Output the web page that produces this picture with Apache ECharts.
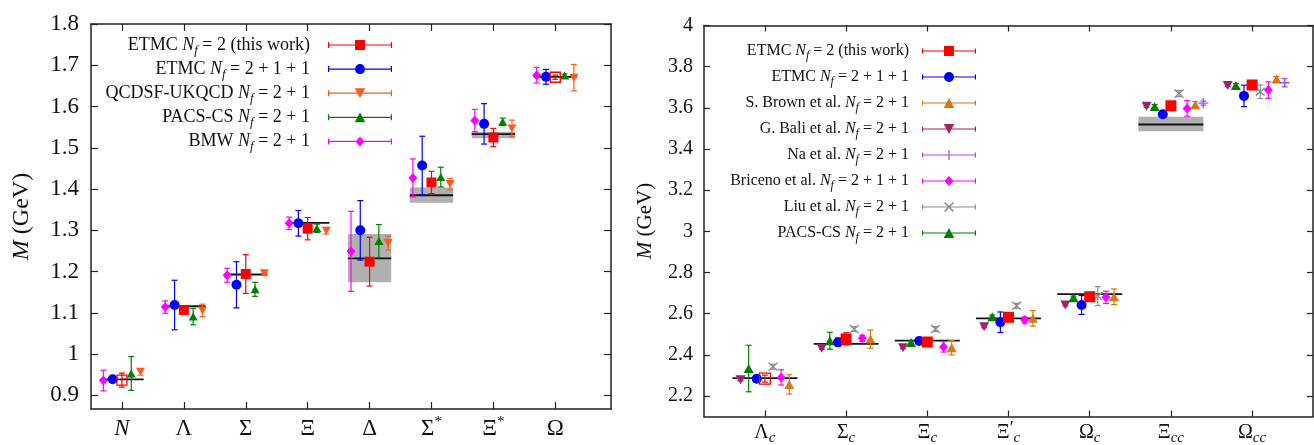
<!DOCTYPE html>
<html><head><meta charset="utf-8">
<script src="https://cdn.jsdelivr.net/npm/echarts@6/dist/echarts.min.js"></script>
<style>html,body{margin:0;padding:0;background:#fff}#c{width:1314px;height:445px}</style>
</head><body><div id="c"></div>
<script>
// ---------------- LEFT PANEL DATA (light baryons, GeV) ----------------
const leftCats = ['N','Λ','Σ','Ξ','Δ','Σ*','Ξ*','Ω'];
const leftExp   = [0.939, 1.116, 1.193, 1.318, 1.232, 1.385, 1.533, 1.672];
const leftExpLo = [null, null, null, null, 1.174, 1.367, 1.523, null];
const leftExpHi = [null, null, null, null, 1.291, 1.404, 1.539, null];
const leftTicks = [0.9, 1.0, 1.1, 1.2, 1.3, 1.4, 1.5, 1.6, 1.7, 1.8];
const leftInputs = ['N','Ω'];

const etmc2L      = [0.937, 1.107, 1.194, 1.304, 1.224, 1.416, 1.525, 1.671];
const etmc2LErr   = [0.017, 0.005, 0.047, 0.027, 0.059, 0.027, 0.022, 0.005];
const etmc211L    = [0.939, 1.119, 1.168, 1.317, 1.300, 1.457, 1.558, 1.672];
const etmc211LErr = [0.004, 0.060, 0.056, 0.031, 0.072, 0.071, 0.049, 0.018];
const qcdsfL      = [0.957, 1.106, 1.196, 1.299, 1.269, 1.412, 1.547, 1.670];
const qcdsfLErr   = [0.008, 0.015, 0.004, 0.008, 0.017, 0.014, 0.020, 0.032];
const pacsL       = [0.953, 1.091, 1.157, 1.305, 1.274, 1.429, 1.563, 1.675];
const pacsLErr    = [0.041, 0.020, 0.017, 0.010, 0.040, 0.024, 0.009, 0.004];
const bmwL        = [0.936, 1.114, 1.191, 1.317, 1.249, 1.427, 1.566, 1.676];
const bmwLErr     = [0.025, 0.015, 0.017, 0.015, 0.097, 0.046, 0.027, 0.019];

// ---------------- RIGHT PANEL DATA (charmed baryons, GeV) ----------------
const rightCats = ['Λc','Σc','Ξc',"Ξ'c",'Ωc','Ξcc','Ωcc'];
const rightExp   = [2.286, 2.453, 2.469, 2.577, 2.695, 3.519, null];
const rightExpLo = [null, null, null, null, null, 3.486, null];
const rightExpHi = [null, null, null, null, null, 3.557, null];
const rightTicks = [2.2, 2.4, 2.6, 2.8, 3.0, 3.2, 3.4, 3.6, 3.8, 4.0];
const rightInputs = ['Λc'];

const etmc2R      = [2.284, 2.477, 2.462, 2.582, 2.682, 3.610, 3.711];
const etmc2RErr   = [0.017, 0.030, 0.010, 0.010, 0.010, 0.010, 0.010];
const etmc211R    = [2.284, 2.461, 2.467, 2.558, 2.642, 3.569, 3.658];
const etmc211RErr = [0.010, 0.020, 0.010, 0.050, 0.046, 0.012, 0.052];
const brownR      = [2.256, 2.476, 2.434, 2.577, 2.682, 3.615, 3.740];
const brownRErr   = [0.047, 0.044, 0.035, 0.038, 0.038, 0.015, 0.012];
const baliR       = [2.278, 2.432, 2.434, 2.536, 2.642, 3.608, 3.708];
const baliRErr    = [0.005, 0.005, 0.005, 0.005, 0.005, 0.005, 0.005];
const naR         = [null, null, null, null, null, 3.623, 3.722];
const naRErr      = [null, null, null, null, null, 0.010, 0.020];
const bricenoR    = [2.290, 2.480, 2.438, 2.569, 2.679, 3.597, 3.686];
const bricenoRErr = [0.037, 0.015, 0.025, 0.015, 0.030, 0.038, 0.040];
const liuR        = [2.342, 2.525, 2.525, 2.638, 2.685, 3.669, 3.678];
const liuRErr     = [0.012, 0.012, 0.012, 0.012, 0.046, 0.015, 0.033];
const pacsR       = [2.333, 2.468, 2.459, 2.585, 2.677, 3.606, 3.708];
const pacsRErr    = [0.113, 0.041, 0.008, 0.008, 0.008, 0.010, 0.010];

// ---------------- STYLE / LAYOUT ----------------
const F = "'Liberation Serif','DejaVu Serif',serif";
const TXT = '#111';
const FRAME = '#222';

const leftSeries = [
  {name:'ETMC Nf = 2 (this work)', vals:etmc2L, errs:etmc2LErr, off:0, color:'#ff0000', sym:'rect', size:[10,10], icon:'rect', open:leftInputs, z:6},
  {name:'ETMC Nf = 2 + 1 + 1', vals:etmc211L, errs:etmc211LErr, off:-0.15, color:'#0000ff', sym:'circle', size:[10,10], icon:'circle', z:5},
  {name:'QCDSF-UKQCD Nf = 2 + 1', vals:qcdsfL, errs:qcdsfLErr, off:0.3, color:'#ff5a1e', sym:'triangle', rot:180, size:[9,8], icon:'down', z:4},
  {name:'PACS-CS Nf = 2 + 1', vals:pacsL, errs:pacsLErr, off:0.15, color:'#008000', sym:'triangle', size:[9,8], icon:'up', z:4},
  {name:'BMW Nf = 2 + 1', vals:bmwL, errs:bmwLErr, off:-0.3, color:'#ff00ff', sym:'diamond', size:[9,10], icon:'diamond', z:4}
];
const PLUS = 'path://M0 4.3L10 4.3L10 5.7L0 5.7ZM4.3 0L5.7 0L5.7 10L4.3 10Z';
const XSYM = 'path://M1 0L10 9L9 10L0 1ZM9 0L10 1L1 10L0 9Z';
const rightSeries = [
  {name:'ETMC Nf = 2 (this work)', vals:etmc2R, errs:etmc2RErr, off:0, color:'#ff0000', sym:'rect', size:[11,11], icon:'rect', open:rightInputs, z:6},
  {name:'ETMC Nf = 2 + 1 + 1', vals:etmc211R, errs:etmc211RErr, off:-0.1, color:'#0000ff', sym:'circle', size:[10,10], icon:'circle', z:5},
  {name:'S. Brown et al. Nf = 2 + 1', vals:brownR, errs:brownRErr, off:0.3, color:'#d6780f', sym:'triangle', size:[10,9], icon:'up', z:4},
  {name:'G. Bali et al. Nf = 2 + 1', vals:baliR, errs:baliRErr, off:-0.3, color:'#a3206d', sym:'triangle', rot:180, size:[10,9], icon:'down', z:4},
  {name:'Na et al. Nf = 2 + 1', vals:naR, errs:naRErr, off:0.4, color:'#a050f0', sym:PLUS, size:[10,10], icon:'plus', z:4},
  {name:'Briceno et al. Nf = 2 + 1 + 1', vals:bricenoR, errs:bricenoRErr, off:0.2, color:'#ff00ff', sym:'diamond', size:[9,10], icon:'diamond', z:4},
  {name:'Liu et al. Nf = 2 + 1', vals:liuR, errs:liuRErr, off:0.1, color:'#8c8c8c', sym:XSYM, size:[10,9], icon:'x', z:4},
  {name:'PACS-CS Nf = 2 + 1', vals:pacsR, errs:pacsRErr, off:-0.2, color:'#008000', sym:'triangle', size:[10,9], icon:'up', z:4}
];

function points(s, cats) {
  const out = [];
  s.vals.forEach((v, i) => {
    if (v == null) return;
    out.push({x: i + 1 + s.off, y: v, e: s.errs[i] || 0, open: !!(s.open && s.open.includes(cats[i]))});
  });
  return out;
}

function errRender(color, capW) {
  return function (params, api) {
    const x = api.value(0), y = api.value(1), e = api.value(2);
    const t = api.coord([x, y + e]), b = api.coord([x, y - e]);
    const st = {stroke: color, lineWidth: 1.2};
    return {type: 'group', children: [
      {type: 'line', shape: {x1: t[0], y1: t[1], x2: b[0], y2: b[1]}, style: st},
      {type: 'line', shape: {x1: t[0] - capW / 2, y1: t[1], x2: t[0] + capW / 2, y2: t[1]}, style: st},
      {type: 'line', shape: {x1: b[0] - capW / 2, y1: b[1], x2: b[0] + capW / 2, y2: b[1]}, style: st}
    ]};
  };
}

function iconPath(shape, W, H, capH) {
  const cy = H / 2, cx = W / 2, lw = 1.2, s = H / 2;
  const r = (x0, y0, x1, y1) => `M${x0} ${y0}L${x1} ${y0}L${x1} ${y1}L${x0} ${y1}Z`;
  let p = r(0, cy - lw / 2, W, cy + lw / 2) + r(0, cy - capH / 2, lw, cy + capH / 2) + r(W - lw, cy - capH / 2, W, cy + capH / 2);
  if (shape === 'rect') p += r(cx - s, 0, cx + s, H);
  else if (shape === 'circle') p += `M${cx - s} ${cy}A${s} ${s} 0 1 1 ${cx + s} ${cy}A${s} ${s} 0 1 1 ${cx - s} ${cy}Z`;
  else if (shape === 'up') p += `M${cx} 0L${cx + s * 1.05} ${H}L${cx - s * 1.05} ${H}Z`;
  else if (shape === 'down') p += `M${cx - s * 1.05} 0L${cx + s * 1.05} 0L${cx} ${H}Z`;
  else if (shape === 'diamond') p += `M${cx} 0L${cx + s * 0.9} ${cy}L${cx} ${H}L${cx - s * 0.9} ${cy}Z`;
  else if (shape === 'plus') p += r(cx - lw / 2, 0, cx + lw / 2, H);
  else if (shape === 'x') {
    const t = 1.1;
    p += `M${cx - s + t} 0L${cx + s} ${H - t}L${cx + s - t} ${H}L${cx - s} ${t}Z`;
    p += `M${cx + s - t} 0L${cx + s} ${t}L${cx - s + t} ${H}L${cx - s} ${H - t}Z`;
  }
  return 'path://' + p;
}

function catRich(label) {
  let s = label[0] === 'N' ? '{i|N}' : `{g|${label[0]}}`;
  let rest = label.slice(1);
  if (rest.startsWith('*')) { s += '{sup|*}'; rest = rest.slice(1); }
  if (rest.startsWith("'")) { s += '{pr|′}'; rest = rest.slice(1); }
  if (rest) s += `{s|${rest}}`;
  return s;
}

function legendFmt(name) {
  const parts = name.split('Nf');
  return `{t|${parts[0]}}{i|N}{s|f}{t|${parts[1]}}{sp| }`;
}

function legendRich(fs, lh, sfs, slh, spw) {
  return {
    t: {fontFamily: F, fontSize: fs, lineHeight: lh, verticalAlign: 'middle', color: TXT},
    i: {fontFamily: F, fontSize: fs, fontStyle: 'italic', lineHeight: lh, verticalAlign: 'middle', color: TXT},
    s: {fontFamily: F, fontSize: sfs, fontStyle: 'italic', lineHeight: slh, verticalAlign: 'bottom', color: TXT},
    sp: {width: spw, fontSize: 8, lineHeight: lh}
  };
}

function buildPanel(seriesDefs, cats, exp, lo, hi, gi, halfW, capW) {
  const xi = gi * 2, yi = gi * 2;
  const out = [];
  const boxData = [];
  exp.forEach((v, i) => { if (lo[i] != null) boxData.push([i + 1, lo[i], hi[i]]); });
  out.push({type: 'custom', xAxisIndex: xi, yAxisIndex: yi, silent: true, z: 1, clip: false,
    dimensions: ['x', 'lo', 'hi'], encode: {x: 0, y: [1, 2]}, data: boxData,
    renderItem: (p, api) => {
      const x = api.value(0);
      const a = api.coord([x - halfW, api.value(2)]), b = api.coord([x + halfW, api.value(1)]);
      return {type: 'rect', shape: {x: a[0], y: a[1], width: b[0] - a[0], height: b[1] - a[1]}, style: {fill: '#b0b0b0'}};
    }});
  const lineData = [];
  exp.forEach((v, i) => { if (v != null) lineData.push([i + 1, v]); });
  out.push({type: 'custom', xAxisIndex: xi, yAxisIndex: yi, silent: true, z: 2, clip: false,
    dimensions: ['x', 'y'], encode: {x: 0, y: 1}, data: lineData,
    renderItem: (p, api) => {
      const x = api.value(0), y = api.value(1);
      const a = api.coord([x - halfW, y]), b = api.coord([x + halfW, y]);
      return {type: 'line', shape: {x1: a[0], y1: a[1], x2: b[0], y2: b[1]}, style: {stroke: '#111', lineWidth: 1.8}};
    }});
  seriesDefs.forEach(s => {
    const pts = points(s, cats);
    out.push({type: 'scatter', name: s.name, xAxisIndex: xi, yAxisIndex: yi, z: s.z + 2, silent: true,
      symbol: s.sym, symbolSize: s.size, symbolRotate: s.rot || 0,
      itemStyle: {color: s.color, opacity: 1, borderWidth: 0},
      emphasis: {disabled: true},
      data: pts.map(p => p.open
        ? {value: [p.x, p.y], itemStyle: {color: 'rgba(255,255,255,0)', borderColor: s.color, borderWidth: 1.3}}
        : {value: [p.x, p.y]})});
    out.push({type: 'custom', xAxisIndex: xi, yAxisIndex: yi, silent: true, z: 3, clip: false,
      dimensions: ['x', 'y', 'e'], encode: {x: 0, y: 1}, data: pts.map(p => [p.x, p.y, p.e]),
      renderItem: errRender(s.color, capW)});
  });
  return out;
}

function xAxes(gi, min, max, cats, fs, subFs, margin, tickLen) {
  const pos = cats.map((_, i) => i + 1);
  const common = {type: 'value', gridIndex: gi, min, max,
    axisLine: {show: true, onZero: false, lineStyle: {color: FRAME, width: 1.5}},
    splitLine: {show: false}};
  return [
    Object.assign({}, common, {position: 'bottom',
      axisTick: {show: true, inside: true, length: tickLen, customValues: pos, lineStyle: {color: FRAME, width: 1.2}},
      axisLabel: {show: true, customValues: pos, margin, fontFamily: F,
        formatter: v => catRich(cats[Math.round(v) - 1]),
        rich: {
          g: {fontFamily: F, fontSize: fs, lineHeight: fs + 5, verticalAlign: 'middle', color: TXT},
          i: {fontFamily: F, fontSize: fs, fontStyle: 'italic', lineHeight: fs + 5, verticalAlign: 'middle', color: TXT},
          sup: {fontFamily: F, fontSize: subFs, lineHeight: 18, verticalAlign: 'top', color: TXT},
          pr: {fontFamily: F, fontSize: fs - 2, lineHeight: 18, verticalAlign: 'top', color: TXT},
          s: {fontFamily: F, fontSize: subFs, fontStyle: 'italic', lineHeight: 10, verticalAlign: 'bottom', color: TXT}
        }}}),
    Object.assign({}, common, {position: 'top',
      axisTick: {show: true, inside: true, length: tickLen, customValues: pos, lineStyle: {color: FRAME, width: 1.2}},
      axisLabel: {show: false}})
  ];
}

function yAxes(gi, min, max, ticks, fs, margin, nameFs, nameGap, tickLen) {
  const common = {type: 'value', gridIndex: gi, min, max,
    axisLine: {show: true, onZero: false, lineStyle: {color: FRAME, width: 1.5}},
    splitLine: {show: false}};
  return [
    Object.assign({}, common, {position: 'left',
      name: '{i|M} (GeV)', nameLocation: 'middle', nameRotate: 90, nameGap, nameMoveOverlap: false,
      nameTextStyle: {fontFamily: F, fontSize: nameFs, color: TXT,
        rich: {i: {fontFamily: F, fontSize: nameFs, fontStyle: 'italic', color: TXT}}},
      axisTick: {show: true, inside: true, length: tickLen, customValues: ticks, lineStyle: {color: FRAME, width: 1.2}},
      axisLabel: {show: true, customValues: ticks, margin, fontFamily: F, fontSize: fs, color: TXT,
        formatter: v => `{n|${v}}`,
        rich: {n: {fontFamily: F, fontSize: fs, color: TXT}}}}),
    Object.assign({}, common, {position: 'right',
      axisTick: {show: true, inside: true, length: tickLen, customValues: ticks, lineStyle: {color: FRAME, width: 1.2}},
      axisLabel: {show: false}})
  ];
}

const chart = echarts.init(document.getElementById('c'), null, {renderer: 'canvas', width: 1314, height: 445});
const option = {
  animation: false,
  backgroundColor: '#ffffff',
  textStyle: {fontFamily: F, color: TXT},
  grid: [
    {left: 91, top: 24, width: 520, height: 385, outerBoundsMode: 'none'},
    {left: 704, top: 25.5, width: 609, height: 391, outerBoundsMode: 'none'}
  ],
  xAxis: [
    ...xAxes(0, 0.5, 8.9, leftCats, 23, 15, 6, 7),
    ...xAxes(1, 0.25, 7.75, rightCats, 20, 15, 4, 6)
  ],
  yAxis: [
    ...yAxes(0, 0.867, 1.8, leftTicks, 23, 12, 24, 57, 7),
    ...yAxes(1, 2.1, 4.0, rightTicks, 20, 11, 21, 48, 6)
  ],
  legend: [
    {orient: 'vertical', right: 922, top: 36, align: 'right', itemWidth: 64, itemHeight: 10, itemGap: 3.1,
     padding: 0, selectedMode: false, symbolRotate: 0,
     data: leftSeries.map(s => ({name: s.name, icon: iconPath(s.icon, 64, 10, 6), itemStyle: {color: s.color, borderWidth: 0}})),
     formatter: legendFmt,
     textStyle: {fontFamily: F, fontSize: 18, color: TXT, rich: legendRich(18, 24, 13, 12, 13)}},
    {orient: 'vertical', right: 338, top: 43, align: 'right', itemWidth: 54, itemHeight: 10, itemGap: 7,
     padding: 0, selectedMode: false, symbolRotate: 0,
     data: rightSeries.map(s => ({name: s.name, icon: iconPath(s.icon, 54, 10, 5), itemStyle: {color: s.color, borderWidth: 0}})),
     formatter: legendFmt,
     textStyle: {fontFamily: F, fontSize: 16, color: TXT, rich: legendRich(16, 22, 12, 12, 8)}}
  ],
  series: [
    ...buildPanel(leftSeries, leftCats, leftExp, leftExpLo, leftExpHi, 0, 0.35, 6),
    ...buildPanel(rightSeries, rightCats, rightExp, rightExpLo, rightExpHi, 1, 0.4, 6)
  ]
};
chart.setOption(option);
</script>
</body></html>
